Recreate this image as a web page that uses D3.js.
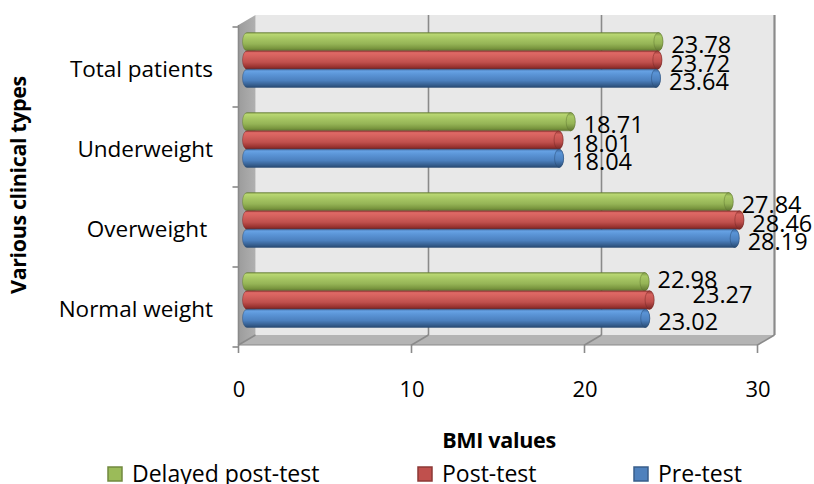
<!DOCTYPE html>
<html>
<head>
<meta charset="utf-8">
<script src="https://cdn.jsdelivr.net/npm/d3@7/dist/d3.min.js"></script>
<style>
  html, body { margin: 0; padding: 0; background: #fff; }
  svg { display: block; font-family: "Open Sans", "DejaVu Sans", sans-serif; }
</style>
</head>
<body>
<svg id="chart" width="814" height="484"></svg>
<script>
// Categories, top row first
const categories = ["Total patients", "Underweight", "Overweight ", "Normal weight"];
// Series, top bar of each group first (legend order)
const seriesNames = ["Delayed post-test", "Post-test", "Pre-test"];
const delayedPostTest = [23.78, 18.71, 27.84, 22.98];
const postTest        = [23.72, 18.01, 28.46, 23.27];
const preTest         = [23.64, 18.04, 28.19, 23.02];
const seriesValues = [delayedPostTest, postTest, preTest];
const xTicks = [0, 10, 20, 30];

// Cylinder shading per series: [topEdge, highlight, body, lower, shadow, bottomEdge]
const shades = {
  "Delayed post-test": ["#7d9846", "#b8d672", "#a8c865", "#95b456", "#7a963f", "#5e7530"],
  "Post-test":         ["#963936", "#e06966", "#d4615d", "#c0504d", "#9c3431", "#772624"],
  "Pre-test":          ["#3b68a0", "#67a2e4", "#5a94d6", "#4c80be", "#365f90", "#284a72"]
};
const legendFill = { "Delayed post-test": "#9bbb59", "Post-test": "#c0504d", "Pre-test": "#4f81bd" };
const legendStroke = { "Delayed post-test": "#71893f", "Post-test": "#8c3836", "Pre-test": "#385d8a" };

// Small position tweaks for crowded value labels: [dx, dy]
const labelNudge = { "3|1": [30, -9], "3|0": [0, -5] };

const svg = d3.select("#chart");
const defs = svg.append("defs");

// Depth of the 3D box: back plane is mid plane + depth, front plane is mid plane - depth
const depth = { x: 8.5, y: -5 };

// Mid-depth plane scales (where the cylinders sit)
const x = d3.scaleLinear().domain([0, 30]).range([247, 766]);
const y = d3.scaleBand().domain(categories).range([20, 340]);
const ySeries = d3.scaleBand().domain(seriesNames).range([0, y.bandwidth()]).paddingOuter(0.685);

const xb = v => x(v) + depth.x, xf = v => x(v) - depth.x;
const plotTop = y.range()[0], plotBottom = y.range()[1];

const box = svg.append("g");
// back wall
box.append("rect")
  .attr("x", xb(0)).attr("y", plotTop + depth.y)
  .attr("width", xb(30) - xb(0)).attr("height", plotBottom - plotTop)
  .attr("fill", "#e8e8e8");
// floor
box.append("path")
  .attr("d", `M${xb(0)},${plotBottom + depth.y} L${xb(30)},${plotBottom + depth.y} L${xf(30)},${plotBottom - depth.y} L${xf(0)},${plotBottom - depth.y} Z`)
  .attr("fill", "#b4b4b4");
// side wall
const wallGrad = defs.append("linearGradient").attr("id", "wall").attr("x1", 0).attr("x2", 1).attr("y1", 0).attr("y2", 0);
wallGrad.append("stop").attr("offset", 0).attr("stop-color", "#9c9c9c");
wallGrad.append("stop").attr("offset", 1).attr("stop-color", "#b0b0b0");
box.append("path")
  .attr("d", `M${xf(0)},${plotTop - depth.y} L${xb(0)},${plotTop + depth.y} L${xb(0)},${plotBottom + depth.y} L${xf(0)},${plotBottom - depth.y} Z`)
  .attr("fill", "url(#wall)");

// gridlines across back wall and floor, with ticks below the front edge
xTicks.forEach(t => {
  if (t > 0) {
    box.append("line")
      .attr("x1", xb(t)).attr("x2", xb(t))
      .attr("y1", plotTop + depth.y).attr("y2", plotBottom + depth.y)
      .attr("stroke", "#8a8a8a").attr("stroke-width", t === 30 ? 2.2 : 1.6);
  }
  box.append("path")
    .attr("d", `M${xb(t)},${plotBottom + depth.y} L${xf(t)},${plotBottom - depth.y} L${xf(t)},${plotBottom - depth.y + 8}`)
    .attr("fill", "none").attr("stroke", "#8a8a8a").attr("stroke-width", 1.6);
});
// floor front edge
box.append("line")
  .attr("x1", xf(0)).attr("x2", xf(30))
  .attr("y1", plotBottom - depth.y).attr("y2", plotBottom - depth.y)
  .attr("stroke", "#8a8a8a").attr("stroke-width", 1.2);
// vertical axis on the side wall front edge with category ticks
box.append("line")
  .attr("x1", xf(0)).attr("x2", xf(0))
  .attr("y1", plotTop - depth.y).attr("y2", plotBottom - depth.y)
  .attr("stroke", "#8a8a8a").attr("stroke-width", 1.6);
const boundaries = categories.map(c => y(c)).concat([plotBottom]);
boundaries.forEach(b => {
  box.append("line")
    .attr("x1", xf(0) - 6).attr("x2", xf(0))
    .attr("y1", b - depth.y + 2).attr("y2", b - depth.y + 2)
    .attr("stroke", "#8a8a8a").attr("stroke-width", 1.6);
});

// cylinder gradients
seriesNames.forEach((s, i) => {
  const g = defs.append("linearGradient").attr("id", "cyl" + i)
    .attr("x1", 0).attr("x2", 0).attr("y1", 0).attr("y2", 1);
  const c = shades[s];
  [[0, c[0]], [0.1, c[1]], [0.3, c[2]], [0.62, c[3]], [0.86, c[4]], [1, c[5]]]
    .forEach(([o, col]) => g.append("stop").attr("offset", o).attr("stop-color", col));
  const cg = defs.append("linearGradient").attr("id", "cap" + i)
    .attr("x1", 0).attr("x2", 0).attr("y1", 0).attr("y2", 1);
  [[0, c[0]], [0.2, c[2]], [0.6, c[3]], [1, c[5]]]
    .forEach(([o, col]) => cg.append("stop").attr("offset", o).attr("stop-color", col));
});

// bars
const bars = svg.append("g");
const r = ySeries.bandwidth() / 2;
const rx = 4.5;
categories.forEach((cat, ci) => {
  seriesNames.forEach((s, si) => {
    const v = seriesValues[si][ci];
    const cy = y(cat) + ySeries(s) + r;
    const x0 = x(0), x1 = x(v);
    bars.append("path")
      .attr("d", `M${x0},${cy - r} L${x1},${cy - r} A${rx},${r} 0 0 1 ${x1},${cy + r} L${x0},${cy + r} A${rx},${r} 0 0 1 ${x0},${cy - r} Z`)
      .attr("fill", `url(#cyl${si})`)
      .attr("stroke", shades[s][5]).attr("stroke-opacity", 0.55).attr("stroke-width", 0.8);
    bars.append("ellipse")
      .attr("cx", x1).attr("cy", cy).attr("rx", rx).attr("ry", r)
      .attr("fill", `url(#cap${si})`)
      .attr("stroke", shades[s][5]).attr("stroke-opacity", 0.6).attr("stroke-width", 0.8);
  });
});

// value labels
const labels = svg.append("g").attr("font-size", 23.5).attr("fill", "#000");
categories.forEach((cat, ci) => {
  seriesNames.forEach((s, si) => {
    const v = seriesValues[si][ci];
    const cy = y(cat) + ySeries(s) + r;
    const n = labelNudge[ci + "|" + si] || [0, 0];
    labels.append("text")
      .attr("x", x(v) + 13 + n[0])
      .attr("y", cy + 11.5 + n[1])
      .text(v.toFixed(2));
  });
});

// category labels
svg.append("g").attr("font-size", 22.5).attr("text-anchor", "end")
  .selectAll("text").data(categories).join("text")
  .attr("x", 213)
  .attr("y", d => y(d) + y.bandwidth() / 2 + 17)
  .style("white-space", "pre")
  .text(d => d);

// x tick labels on the front edge
svg.append("g").attr("font-size", 22).attr("text-anchor", "middle")
  .selectAll("text").data(xTicks).join("text")
  .attr("x", d => xf(d) + 0.5)
  .attr("y", 397)
  .text(d => d);

// axis titles
svg.append("text")
  .attr("x", 499).attr("y", 448)
  .attr("text-anchor", "middle").attr("font-weight", "bold").attr("font-size", 21.5)
  .attr("letter-spacing", -0.3)
  .text("BMI values");
svg.append("text")
  .attr("transform", "translate(26,185) rotate(-90)")
  .attr("text-anchor", "middle").attr("font-weight", "bold").attr("font-size", 21.5)
  .attr("letter-spacing", -0.4)
  .text("Various clinical types");

// legend
const legendX = [108, 418, 634];
const legend = svg.append("g");
seriesNames.forEach((s, i) => {
  legend.append("rect")
    .attr("x", legendX[i]).attr("y", 467).attr("width", 14).attr("height", 14)
    .attr("fill", legendFill[s]).attr("stroke", legendStroke[s]).attr("stroke-width", 1.5);
  legend.append("text")
    .attr("x", legendX[i] + 24).attr("y", 482)
    .attr("font-size", 23)
    .text(s);
});
</script>
</body>
</html>
